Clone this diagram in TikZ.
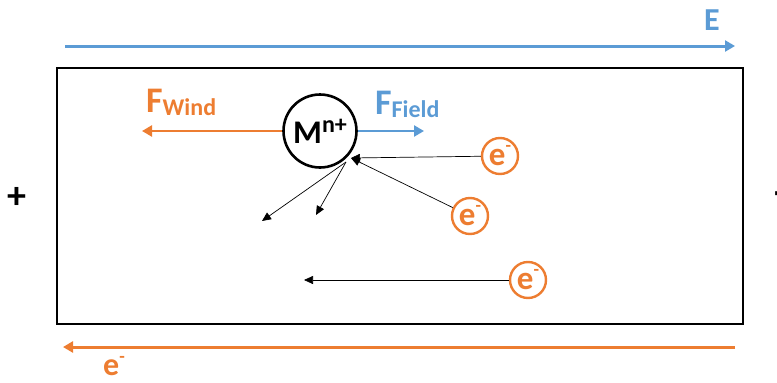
\documentclass[tikz,border=0pt]{standalone}
\usepackage{fontspec}
\setmainfont{Carlito}
\usetikzlibrary{arrows.meta}
\definecolor{fieldblue}{HTML}{5B9BD5}
\definecolor{windorange}{HTML}{ED7D31}
\tikzset{
  px/.style={x=1pt,y=-1pt},
  bigarrow/.style={line width=3pt,-{Triangle[length=10pt,width=11pt]}},
  thinarrow/.style={line width=0.7pt,-{Triangle[length=9pt,width=8pt]}},
  electron/.style={circle,draw=windorange,line width=2.4pt,minimum size=36pt,inner sep=0pt,
    text=windorange,font=\fontsize{33}{33}\selectfont\bfseries},
  ion/.style={circle,draw=black,line width=2.6pt,minimum size=73pt,inner sep=0pt,
    font=\fontsize{33}{33}\selectfont\bfseries},
  lab/.style={font=\fontsize{32}{32}\selectfont\bfseries,inner sep=0pt}
}
\newcommand{\elec}{e\raisebox{0.42em}{\fontsize{18}{18}\selectfont -}}
\begin{document}
\begin{tikzpicture}[px]
  \useasboundingbox (0,0) rectangle (777,383);
  % conductor
  \draw[line width=2.8pt] (57,68) rectangle (743,324);
  % applied field and electron flow
  \coordinate (eL) at (65,46);
  \coordinate (eR) at (735,46);
  \draw[bigarrow,fieldblue] (eL) -- (eR);
  \node[lab,text=fieldblue] (E) at (712,20) {E};
  \coordinate (cR) at (735,347);
  \coordinate (cL) at (63,347);
  \draw[bigarrow,windorange] (cR) -- (cL);
  \node[lab,text=windorange] (ebot) at (114,366) {\elec};
  % terminals
  \node[lab,font=\fontsize{38}{38}\selectfont\bfseries] (plus) at (17,198) {+};
  \node[lab,font=\fontsize{38}{38}\selectfont\bfseries] (minus) at (780,198) {-};
  % metal ion
  \node[ion] (M) at (320,131) {M\raisebox{0.33em}{\fontsize{24}{24}\selectfont n+}};
  \coordinate (wind) at (142,131);
  \coordinate (field) at (424,131);
  \draw[bigarrow,windorange,line width=2.6pt] (M.west) -- (wind);
  \draw[bigarrow,fieldblue,line width=2.6pt] (M.east) -- (field);
  \node[lab,text=windorange,anchor=base west] (Fw) at (146,112)
    {\fontsize{36}{36}\selectfont F\raisebox{-0.1em}{\fontsize{24}{24}\selectfont Wind}};
  \node[lab,text=fieldblue,anchor=base west] (Ff) at (375,114)
    {\fontsize{36}{36}\selectfont F\raisebox{-0.1em}{\fontsize{24}{24}\selectfont Field}};
  % electrons
  \node[electron] (e1) at (500,156) {\elec};
  \node[electron] (e2) at (470,216) {\elec};
  \node[electron] (e3) at (528,280) {\elec};
  \coordinate (hit) at (351,158);
  \coordinate (split) at (346,162);
  \coordinate (s1) at (262,221);
  \coordinate (s2) at (316,215);
  \coordinate (pass) at (304,280);
  \draw[thinarrow] (e1) -- (hit);
  \draw[thinarrow] (e2) -- (hit);
  \draw[thinarrow] (split) -- (s1);
  \draw[thinarrow] (split) -- (s2);
  \draw[thinarrow] (e3) -- (pass);
\end{tikzpicture}
\end{document}
